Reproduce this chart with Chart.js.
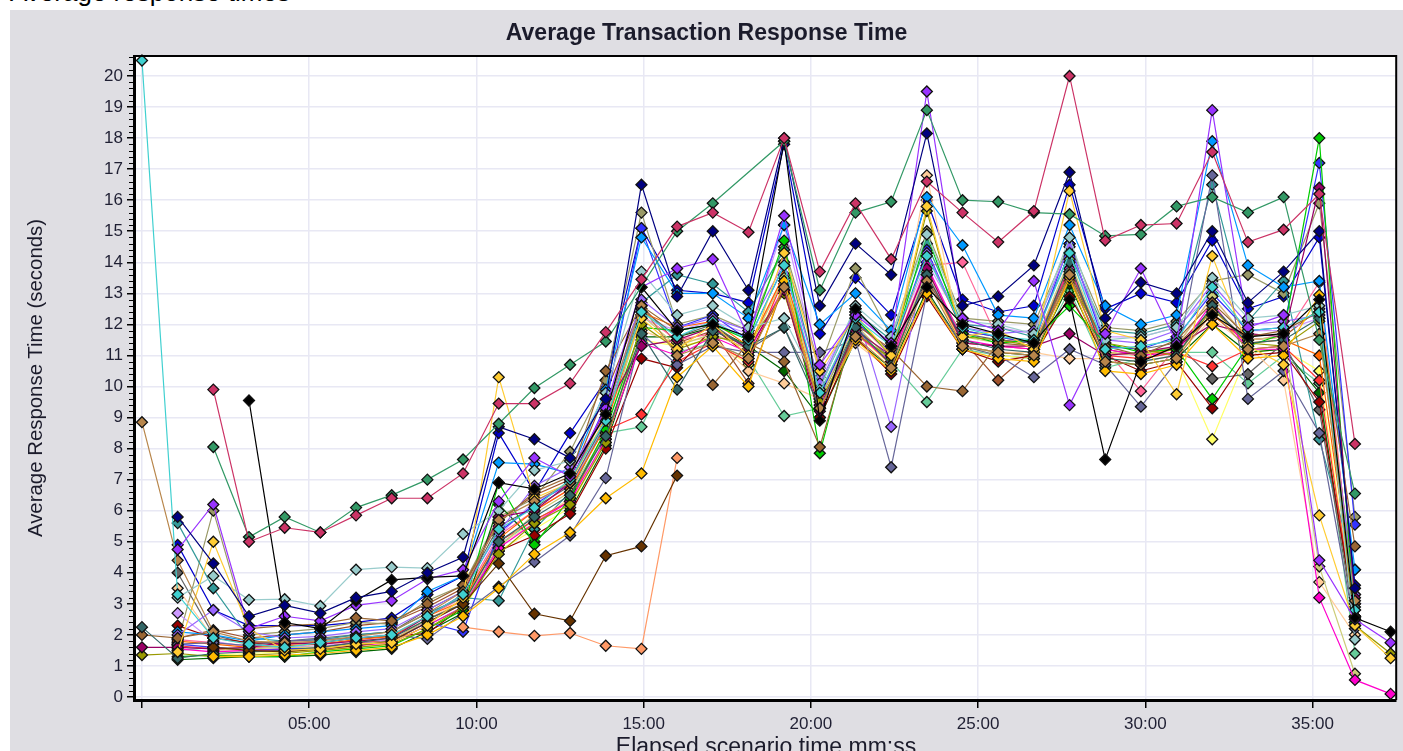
<!DOCTYPE html>
<html>
<head>
<meta charset="utf-8">
<script src="https://cdn.jsdelivr.net/npm/chart.js@4.4.1/dist/chart.umd.min.js"></script>
<style>
  html, body { margin: 0; padding: 0; background: #ffffff; width: 1403px; height: 751px; overflow: hidden; }
  body { position: relative; font-family: "Liberation Sans", Arial, sans-serif; }
  #pageTitle { position: absolute; left: 10px; top: -21px; font-size: 26px; line-height: 26px; color: #000; white-space: nowrap; }
  #panel { position: absolute; left: 10px; top: 10px; width: 1393px; height: 741px; background: #dfdee3; overflow: hidden; }
  #chart { position: absolute; left: 0; top: 0; }
  #title { position: absolute; left: 0; top: 11px; width: 1393px; text-align: center; font-weight: bold; font-size: 23px; line-height: 23px; color: #1b1b2b; white-space: nowrap; }
  #ytitle { position: absolute; left: -175px; top: 358px; width: 400px; height: 20px; line-height: 20px; font-size: 20.4px; text-align: center; color: #1b1b2b; transform: rotate(-90deg); white-space: nowrap; }
  #xtitle { position: absolute; left: 456px; top: 725px; width: 600px; text-align: center; font-size: 23px; line-height: 23px; color: #1b1b2b; white-space: nowrap; }
</style>
</head>
<body>
<div id="pageTitle">Average response times</div>
<div id="panel">
  <canvas id="chart" width="1393" height="741"></canvas>
  <div id="title">Average Transaction Response Time</div>
  <div id="ytitle">Average Response Time (seconds)</div>
  <div id="xtitle">Elapsed scenario time mm:ss</div>
</div>
<script>
// ---- categories (elapsed time of each sample) ----
const times = ["00:00","01:04","02:08","03:12","04:16","05:20","06:24","07:28","08:32","09:36",
  "10:40","11:44","12:48","13:52","14:56","16:00","17:04","18:08","19:12","20:16",
  "21:20","22:24","23:28","24:32","25:36","26:40","27:44","28:48","29:52","30:56",
  "32:00","33:04","34:08","35:12","36:16","37:20"];
// ---- tick labels ----
const xTickLabels = ["00:00","05:00","10:00","15:00","20:00","25:00","30:00","35:00"];
const yTickValues = [0,1,2,3,4,5,6,7,8,9,10,11,12,13,14,15,16,17,18,19,20];

// ---- series values (seconds) ----
const s01 = [20.5,3.3,1.9,1.7,1.6,1.75,1.9,2.0,2.6,3.3,5.4,6.1,7.0,8.9,12.4,11.6,12.1,11.5,13.9,9.8,12.2,11.3,14.2,11.9,11.6,11.5,14.3,11.2,11.3,11.5,13.2,11.8,11.9,12.4,2.8,null];
const s02 = [8.85,4.4,2.1,1.8,1.75,1.8,1.95,2.1,2.7,3.4,5.7,6.3,6.9,9.2,12.6,11.0,11.4,10.9,13.2,9.3,11.6,10.6,13.4,11.3,11.1,11.0,13.6,10.8,10.7,10.9,12.4,11.2,11.3,11.7,3.1,null];
const s03 = [null,null,9.9,5.0,5.45,5.3,5.85,6.4,6.4,7.2,9.45,9.45,10.1,11.75,13.45,15.15,15.6,14.97,18.0,13.7,15.9,14.1,16.6,15.6,14.65,15.65,20.0,14.7,15.2,15.25,17.55,14.65,15.05,16.2,8.15,null];
const s04 = [null,null,8.05,5.15,5.8,5.3,6.1,6.5,7.0,7.65,8.8,9.95,10.7,11.45,null,15.0,15.9,null,17.9,13.1,15.6,15.95,18.9,16.0,15.95,15.6,15.55,14.85,14.9,15.8,16.1,15.6,16.1,11.5,6.55,null];
const s05 = [null,null,null,9.55,2.4,2.2,3.1,3.77,3.85,3.9,6.9,6.7,7.2,9.1,13.2,11.8,12.0,11.6,17.9,8.9,12.5,11.3,13.2,12.0,11.7,11.4,12.8,7.65,10.8,11.3,12.3,11.6,11.7,12.8,2.55,2.1];
const s06 = [null,5.8,4.3,2.6,2.95,2.7,3.2,3.4,4.0,4.5,8.7,8.3,7.7,9.6,16.5,12.9,15.0,13.1,18.0,12.6,14.6,13.6,18.15,12.6,12.9,13.9,16.9,12.2,13.35,13.0,15.0,12.7,13.7,15.0,3.5,null];
const s07 = [null,4.75,6.2,2.2,2.6,2.45,2.95,3.1,3.8,4.1,6.3,7.7,7.1,9.3,13.2,13.8,14.1,11.6,15.5,10.7,12.3,11.4,19.5,12.2,11.8,13.4,9.4,11.7,13.8,11.4,18.9,11.9,12.3,4.4,2.5,1.75];
const s08 = [null,1.45,5.0,2.2,1.5,1.55,1.7,1.75,2.3,3.2,10.3,6.4,6.9,9.0,12.2,11.2,12.0,11.0,14.3,10.5,12.3,11.0,15.8,11.6,11.8,11.2,16.3,11.8,11.5,9.75,14.2,11.3,10.7,5.85,2.3,1.25];
const s09 = [null,null,1.3,1.3,1.35,1.4,1.5,1.6,2.0,2.6,3.5,4.6,5.3,6.4,7.2,10.3,11.3,10.0,13.4,9.3,11.5,10.5,13.0,11.2,10.9,10.8,13.5,10.5,10.4,10.7,12.0,10.9,11.0,12.95,2.6,null];
const s10 = [null,3.2,3.9,3.13,3.15,2.93,4.1,4.18,4.15,5.25,6.0,7.3,7.6,9.8,13.7,12.3,12.6,11.9,12.2,9.9,12.6,11.6,14.9,12.1,12.0,11.7,14.8,11.5,11.6,11.9,13.5,12.2,12.3,12.6,1.85,null];
const s11 = [null,null,1.6,1.5,1.45,1.55,1.65,1.8,2.4,3.0,4.3,2.68,2.45,4.55,4.85,7.13];
const s12 = [null,null,null,null,null,null,null,null,null,2.25,2.1,1.97,2.06,1.65,1.55,7.7];
const s13 = [2.25,1.25,1.4,1.45,1.5,1.6,1.75,1.9,2.5,3.0,5.0,5.8,6.5,8.4,11.7,9.9,11.8,11.3,11.9,9.3,11.9,10.7,13.6,11.5,11.2,11.1,14.0,10.9,10.8,11.0,12.6,11.4,11.5,12.2,2.9,null];
const s14 = [2.0,1.9,2.1,2.2,2.3,2.35,2.55,2.45,3.0,3.6,5.6,6.6,7.1,10.5,12.6,11.8,10.05,11.4,10.8,8.05,12.0,11.2,10.0,9.85,11.4,11.3,13.7,11.3,11.0,11.5,12.7,11.6,11.8,12.4,4.85,null];
const s15 = [1.6,1.6,1.55,1.6,1.75,1.7,1.8,1.9,2.6,3.3,5.8,6.0,6.9,9.3,11.3,11.5,11.9,11.2,13.1,9.2,11.8,11.0,13.8,11.4,11.3,11.3,11.7,11.0,11.1,11.3,12.0,11.7,11.6,16.4,3.2,null];
const s16 = [1.35,1.4,1.3,1.35,1.4,1.5,1.6,1.7,2.2,2.9,4.6,5.6,6.2,8.2,12.0,11.2,11.6,11.4,13.0,9.5,11.7,10.9,15.65,11.6,11.5,11.3,13.4,11.4,11.2,11.0,12.5,11.4,11.3,12.1,2.3,1.4];
const s17 = [null,1.3,1.35,1.3,1.3,1.45,1.55,1.65,2.2,2.8,6.9,4.9,6.4,8.6,11.9,11.8,12.0,11.5,14.7,7.85,12.2,11.0,14.9,11.7,11.4,11.5,12.6,11.4,11.1,11.2,9.6,11.3,11.7,18.0,2.4,null];
const s18 = [null,1.55,1.45,1.5,1.5,1.55,1.65,1.75,2.3,2.9,4.8,5.6,6.3,8.3,11.4,11.0,11.6,11.1,13.2,9.4,11.7,10.8,13.9,11.5,11.3,11.2,13.8,11.2,11.0,11.1,12.7,11.2,11.2,3.2,0.55,0.1];
const s19 = [null,null,1.5,1.55,1.6,1.6,1.7,1.8,2.5,3.0,4.8,5.9,6.6,8.5,12.3,11.3,11.7,11.2,13.5,9.6,12.0,10.8,13.7,11.6,11.4,11.3,14.1,11.1,11.0,11.3,12.9,11.5,11.6,4.2,0.75,null];
const s20 = [null,1.7,1.75,1.65,1.8,1.85,1.9,2.0,1.87,2.7,3.55,4.35,5.2,7.05,11.7,10.7,11.3,11.1,11.1,11.1,11.5,7.4,13.0,11.3,11.0,10.3,11.2,10.7,9.35,10.8,16.8,9.6,10.5,8.5,2.2,null];
const s21 = [null,2.0,2.8,2.1,1.9,1.95,2.1,2.2,2.8,3.4,5.3,6.8,7.4,9.0,12.8,11.9,12.2,11.8,14.0,10.1,12.5,8.7,14.3,11.9,11.7,11.8,14.5,11.5,11.4,11.8,13.3,12.0,12.1,12.3,3.3,null];
const s22 = [null,2.1,2.0,1.8,2.0,2.1,2.2,2.3,3.4,3.9,7.55,7.5,7.2,9.9,14.8,13.0,13.0,12.2,15.2,12.0,13.0,11.8,16.1,14.55,12.3,12.2,15.2,12.6,12.0,12.3,17.9,13.9,13.2,13.4,4.1,null];
const s23 = [null,1.7,1.6,1.5,1.55,1.6,1.7,1.8,2.4,2.1,5.3,6.2,6.9,9.4,15.1,11.9,12.3,11.5,13.9,9.7,12.1,11.1,14.4,11.8,11.6,11.4,14.6,11.3,11.2,11.6,13.0,11.8,11.9,17.2,5.55,null];
const s24 = [null,1.8,1.7,1.6,1.65,1.7,1.85,1.95,2.6,3.1,5.1,6.0,6.7,8.7,12.4,11.9,12.1,11.3,13.6,9.8,12.1,11.1,14.3,11.8,11.6,11.4,13.8,11.1,11.0,11.2,12.3,11.4,11.5,11.0,3.0,null];
const s25 = [null,2.3,1.9,1.75,1.7,1.75,1.9,1.95,2.05,2.9,4.7,5.2,5.9,8.0,10.9,10.6,11.9,11.0,13.1,9.0,11.6,10.4,12.9,11.2,10.8,11.0,12.9,11.0,10.5,10.8,9.3,11.0,11.1,9.5,2.6,null];
const s26 = [null,1.65,1.55,1.5,1.55,1.6,1.75,1.8,2.5,3.0,5.0,5.7,6.3,8.6,9.1,10.8,11.4,10.8,13.5,9.3,11.8,10.7,13.6,11.4,11.3,11.2,13.5,11.0,10.9,11.1,10.65,11.2,11.3,10.2,2.5,null];
const s27 = [null,3.5,1.9,1.7,1.65,1.7,1.8,1.9,2.5,3.1,4.9,5.6,6.4,8.2,11.8,11.4,11.6,10.5,10.1,9.6,11.4,10.5,16.8,11.3,11.1,11.1,10.9,10.9,10.8,11.0,12.2,11.3,10.2,3.7,2.0,null];
const s28 = [null,5.6,3.5,1.9,1.8,1.85,2.0,2.1,2.7,3.2,3.1,5.4,6.6,8.8,12.7,13.6,13.3,12.4,14.4,10.0,12.4,11.5,14.6,12.0,11.9,11.6,14.3,11.8,11.7,12.0,16.5,12.1,13.4,8.3,4.1,null];
const s29 = [null,4.0,2.0,1.7,1.8,1.9,2.0,2.1,2.8,3.4,5.5,6.1,6.8,8.9,12.5,11.6,12.0,11.2,11.9,9.6,11.9,10.9,13.4,11.7,11.5,11.4,13.6,11.3,11.2,11.4,10.25,10.4,11.4,9.25,2.3,null];
const s30 = [null,1.2,1.25,1.3,1.3,1.35,1.45,1.55,2.1,2.7,6.2,5.0,6.0,8.1,11.6,11.6,11.9,11.3,10.5,9.0,11.5,10.6,13.1,11.3,11.1,11.0,13.3,10.8,10.7,10.9,12.0,11.1,11.2,9.8,2.4,null];
const s31 = [null,2.7,1.8,1.6,1.6,1.65,1.75,1.85,2.4,3.0,5.2,6.3,6.8,8.8,12.2,11.8,12.1,11.7,15.2,10.3,12.4,11.3,14.0,12.0,11.9,11.7,14.2,11.6,11.6,11.9,13.0,11.8,11.8,12.2,3.0,null];
const s32 = [null,null,1.35,1.4,1.45,1.5,1.6,1.7,2.2,2.8,4.7,5.4,6.1,8.3,11.5,11.3,11.5,10.7,13.6,9.5,11.7,10.7,13.6,11.3,11.0,10.9,13.7,10.8,10.7,10.9,8.3,11.1,11.2,10.5,2.6,null];
const s33 = [null,1.75,6.0,2.0,2.1,2.2,2.4,2.35,3.1,3.6,5.8,6.4,7.9,10.2,15.6,12.0,12.3,11.8,14.5,10.6,13.8,11.6,15.0,12.2,12.1,12.0,14.6,11.9,11.8,12.1,13.4,13.6,13.0,15.9,5.8,null];
const s34 = [null,1.5,1.6,1.55,1.5,1.6,1.7,1.75,2.3,2.9,4.9,5.7,6.3,8.5,8.7,11.1,11.4,10.9,9.05,9.3,11.8,10.8,9.5,11.2,11.0,10.9,13.1,10.6,10.9,11.1,11.1,10.1,11.0,10.1,1.4,null];
const s35 = [null,1.85,1.75,1.65,1.7,1.75,1.9,2.0,2.6,3.2,5.2,6.0,6.7,8.9,12.3,11.5,11.7,11.2,13.6,9.7,12.1,11.0,13.9,14.0,11.5,11.4,13.9,11.2,9.85,11.3,12.9,11.5,11.6,13.35,2.8,null];
const s36 = [null,1.9,2.15,1.9,2.0,2.1,2.3,2.4,2.9,3.5,5.7,6.5,7.0,9.8,12.6,11.4,11.8,10.1,13.3,9.4,11.7,10.9,13.5,11.5,10.2,11.2,13.6,11.2,11.0,11.3,12.5,11.5,11.6,12.5,3.3,null];
const s37 = [null,4.9,2.8,2.3,2.3,2.3,2.4,2.55,3.3,3.9,8.5,6.6,8.5,10.2,15.1,13.1,13.0,12.7,17.8,11.7,13.5,12.3,16.0,12.8,12.4,12.6,16.5,12.5,13.0,12.7,14.7,12.5,12.9,14.8,3.6,null];

const seriesValues = [s03,s04,s06,s05,s07,s01,s02,s08,s09,s10,s11,s12,s13,s14,s15,s16,s17,s18,s19,s20,
  s21,s22,s23,s24,s25,s26,s27,s28,s29,s30,s31,s32,s33,s34,s35,s36,s37];
const seriesColors = ["#cc3366","#339966","#000080","#000000","#9933ff","#40d0d0","#b8864b","#ffcc33","#ffbb00","#99cccc",
  "#663300","#ff9966","#336666","#996633","#990066","#999900","#00cc00","#ff00cc","#cccc77","#666699",
  "#9966ff","#0099ff","#3333ff","#ff6600","#990000","#ff3333","#ffcc99","#339999","#666666","#006600",
  "#cc99ff","#ffff66","#999966","#66cc99","#ff6699","#a0522d","#0000cc"];
const seriesNames = ["T03","T04","T06","T05","T07","T01","T02","T08","T09","T10","T11","T12","T13","T14","T15",
  "T16","T17","T18","T19","T20","T21","T22","T23","T24","T25","T26","T27","T28","T29","T30","T31","T32",
  "T33","T34","T35","T36","T37"];

function toSec(s) { const p = s.split(":"); return parseInt(p[0], 10) * 60 + parseInt(p[1], 10); }
function toLabel(v) { const m = Math.floor(v / 60), s = Math.round(v % 60); return String(m).padStart(2, "0") + ":" + String(s).padStart(2, "0"); }

const timeSecs = times.map(toSec);
const xTickSecs = xTickLabels.map(toSec);

const datasets = seriesValues.map((arr, k) => ({
  label: seriesNames[k],
  data: timeSecs.map((t, i) => ({ x: t, y: (arr[i] === undefined ? null : arr[i]) })),
  borderColor: seriesColors[k],
  backgroundColor: seriesColors[k],
  pointBackgroundColor: seriesColors[k],
  pointBorderColor: "#111111",
  pointBorderWidth: 1.3,
  pointStyle: "rectRot",
  pointRadius: 5.5,
  pointHoverRadius: 5.5,
  borderWidth: 1.2,
  tension: 0,
  spanGaps: true,
  clip: 8
}));

const framePlugin = {
  id: "frame",
  beforeDraw(chart) {
    const { ctx, chartArea: a } = chart;
    ctx.save();
    ctx.fillStyle = "#ffffff";
    ctx.fillRect(a.left, a.top, a.right - a.left, a.bottom - a.top);
    ctx.restore();
  },
  afterDraw(chart) {
    const { ctx, chartArea: a, scales } = chart;
    ctx.save();
    ctx.strokeStyle = "#000";
    ctx.lineWidth = 2;
    ctx.beginPath();
    ctx.moveTo(a.left, a.top);
    ctx.lineTo(a.right, a.top);
    ctx.lineTo(a.right, a.bottom);
    ctx.stroke();
    // minor ticks on the value axis
    const ys = scales.y;
    ctx.lineWidth = 1;
    ctx.beginPath();
    for (let k = 1; k <= 103; k++) {
      if (k % 5 === 0) continue;
      const py = Math.round(ys.getPixelForValue(k / 5)) + 0.5;
      if (py < a.top) break;
      ctx.moveTo(a.left - 5, py);
      ctx.lineTo(a.left, py);
    }
    ctx.stroke();
    ctx.restore();
  }
};

Chart.defaults.font.family = '"Liberation Sans", Arial, sans-serif';

new Chart(document.getElementById("chart"), {
  type: "line",
  data: { datasets },
  plugins: [framePlugin],
  options: {
    responsive: false,
    animation: false,
    devicePixelRatio: 1,
    layout: { padding: { left: 0, right: 3, top: 46, bottom: 0 } },
    plugins: { legend: { display: false }, tooltip: { enabled: false }, title: { display: false } },
    events: [],
    scales: {
      x: {
        type: "linear",
        min: -14.3,
        max: 2250,
        afterBuildTicks: (s) => { s.ticks = xTickSecs.map(v => ({ value: v })); },
        afterFit: (s) => { s.height = 51; },
        grid: { color: "#e8e8f4", lineWidth: 1.5, tickColor: "#000", tickLength: 8, tickWidth: 1.5, drawTicks: true },
        border: { display: true, color: "#000", width: 3 },
        ticks: {
          color: "#1f1f33",
          font: { size: 17 },
          padding: 6,
          maxRotation: 0,
          autoSkip: false,
          callback: (v) => (v === 0 ? "" : toLabel(v))
        }
      },
      y: {
        type: "linear",
        min: -0.097,
        max: 20.644,
        afterBuildTicks: (s) => { s.ticks = yTickValues.map(v => ({ value: v })); },
        afterFit: (s) => { s.width = 124; },
        grid: { color: "#e8e8f4", lineWidth: 1.5, tickColor: "#000", tickLength: 7, tickWidth: 1.5 },
        border: { display: true, color: "#000", width: 3 },
        ticks: { color: "#1f1f33", font: { size: 17 }, padding: 4, autoSkip: false, callback: (v) => String(v) }
      }
    }
  }
});
</script>
</body>
</html>
